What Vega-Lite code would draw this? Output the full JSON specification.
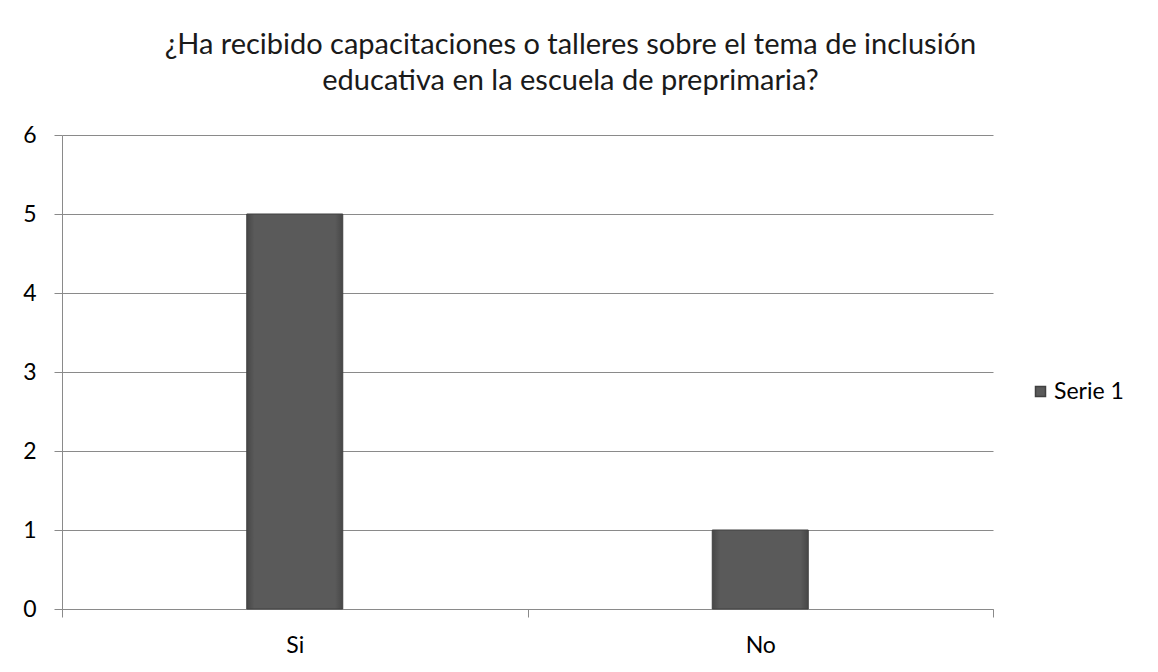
{
  "$schema": "https://vega.github.io/schema/vega-lite/v6.json",
  "width": 931,
  "height": 474,
  "autosize": {"type": "none"},
  "padding": {"left": 62, "top": 135, "right": 165, "bottom": 63},
  "background": "white",
  "title": {
    "text": ["¿Ha recibido capacitaciones o talleres sobre el tema de inclusión", "educativa en la escuela de preprimaria?"],
    "font": "Lato",
    "fontSize": 29,
    "fontWeight": "normal",
    "color": "#1a1a1a",
    "lineHeight": 36,
    "anchor": "middle",
    "dx": 43,
    "offset": 28
  },
  "data": {
    "values": [
      {"respuesta": "Si", "valor": 5, "serie": "Serie 1"},
      {"respuesta": "No", "valor": 1, "serie": "Serie 1"}
    ]
  },
  "mark": {
    "type": "bar",
    "size": 96,
    "strokeWidth": 1,
    "color": {
      "gradient": "linear",
      "x1": 0, "x2": 1, "y1": 0, "y2": 0,
      "stops": [
        {"offset": 0, "color": "#474747"},
        {"offset": 0.08, "color": "#5a5a5a"},
        {"offset": 0.92, "color": "#5a5a5a"},
        {"offset": 1, "color": "#474747"}
      ]
    }
  },
  "encoding": {
    "x": {
      "field": "respuesta",
      "type": "nominal",
      "sort": null,
      "scale": {"paddingInner": 0, "paddingOuter": 0},
      "axis": {
        "title": null,
        "labelAngle": 0,
        "tickBand": "extent",
        "grid": false,
        "domainColor": "#8a8a8a",
        "tickColor": "#8a8a8a",
        "tickSize": 8,
        "labelFont": "Lato",
        "labelFontSize": 23,
        "labelColor": "#000000",
        "labelPadding": 17
      }
    },
    "y": {
      "field": "valor",
      "type": "quantitative",
      "scale": {"domain": [0, 6], "nice": false},
      "axis": {
        "title": null,
        "values": [0, 1, 2, 3, 4, 5, 6],
        "gridColor": "#8a8a8a",
        "domainColor": "#8a8a8a",
        "tickColor": "#8a8a8a",
        "tickSize": 8,
        "labelFont": "Lato",
        "labelFontSize": 23,
        "labelColor": "#000000",
        "labelPadding": 18
      }
    },
    "stroke": {
      "field": "serie",
      "type": "nominal",
      "scale": {"range": ["#404040"]},
      "legend": {
        "title": null,
        "orient": "none",
        "legendX": 967,
        "legendY": 245,
        "symbolType": "square",
        "symbolSize": 100,
        "symbolFillColor": "#595959",
        "symbolStrokeColor": "#404040",
        "labelFont": "Lato",
        "labelFontSize": 23,
        "labelColor": "#000000",
        "labelOffset": 2
      }
    }
  },
  "config": {"view": {"stroke": null}}
}
